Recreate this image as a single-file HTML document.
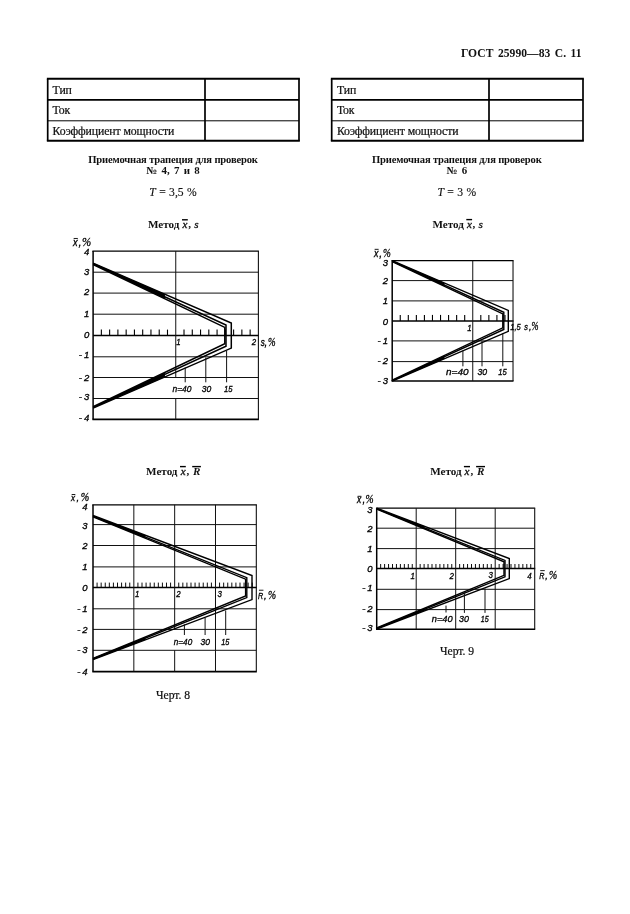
<!DOCTYPE html>
<html lang="ru"><head><meta charset="utf-8"><title>ГОСТ 25990—83 С. 11</title>
<style>
html,body{margin:0;padding:0;background:#fff;}
body{width:630px;height:914px;position:relative;overflow:hidden;filter:blur(0.3px);font-family:"Liberation Serif",serif;color:#111;}
.t{position:absolute;white-space:nowrap;line-height:1;}
.c{text-align:center;}
.b{font-weight:bold;}
.hd{font-size:11.6px;font-weight:bold;left:461px;top:47.8px;letter-spacing:0.03px;word-spacing:1.5px;}
table.tb{position:absolute;border-collapse:collapse;border-spacing:0;table-layout:fixed;width:251.3px;}
table.tb td{padding:0;vertical-align:top;line-height:1;white-space:nowrap;font-size:11.8px;letter-spacing:-0.11px;-webkit-text-stroke:0.22px #111;}
.cap{font-size:11.6px;letter-spacing:0px;-webkit-text-stroke:0.22px #111;}
i{font-weight:normal;}
svg{position:absolute;left:0;top:0;}
svg text{font-family:"Liberation Sans",sans-serif;font-style:italic;font-size:9.5px;fill:#000;stroke:#000;stroke-width:0.33px;}
.ov{text-decoration:overline;}
</style></head><body>
<div class="t hd">ГОСТ 25990—83 С. 11</div>
<table class="tb" style="left:47.7px;top:78.8px;"><colgroup><col style="width:157.3px"><col style="width:94px"></colgroup>
<tr style="height:21px"><td style="padding-top:6.2px;padding-left:4.9px">Тип</td><td></td></tr>
<tr style="height:21px"><td style="padding-top:5.1px;padding-left:4.9px">Ток</td><td></td></tr>
<tr style="height:20px"><td style="padding-top:5.2px;padding-left:4.9px">Коэффициент мощности</td><td></td></tr>
</table>
<table class="tb" style="left:331.7px;top:78.8px;"><colgroup><col style="width:157.3px"><col style="width:94px"></colgroup>
<tr style="height:21px"><td style="padding-top:6.2px;padding-left:5.2px">Тип</td><td></td></tr>
<tr style="height:21px"><td style="padding-top:5.1px;padding-left:5.2px">Ток</td><td></td></tr>
<tr style="height:20px"><td style="padding-top:5.2px;padding-left:5.2px">Коэффициент мощности</td><td></td></tr>
</table>
<div class="t c b" style="left:43px;width:260px;top:154.7px;font-size:10.6px;letter-spacing:-0.17px;">Приемочная трапеция для проверок</div>
<div class="t c b" style="left:43px;width:260px;top:165.3px;font-size:10.9px;word-spacing:1.6px;">№ 4, 7 и 8</div>
<div class="t c" style="left:43px;width:260px;top:186.7px;font-size:11.6px;word-spacing:0.5px;-webkit-text-stroke:0.15px #111;"><i>T</i> = 3,5 %</div>
<div class="t c b" style="left:326.8px;width:260px;top:154.7px;font-size:10.6px;letter-spacing:-0.17px;">Приемочная трапеция для проверок</div>
<div class="t c b" style="left:326.8px;width:260px;top:165.3px;font-size:10.9px;word-spacing:1.6px;">№ 6</div>
<div class="t c" style="left:326.8px;width:260px;top:186.7px;font-size:11.6px;word-spacing:0.5px;-webkit-text-stroke:0.15px #111;"><i>T</i> = 3 %</div>
<div class="t" style="left:148px;top:218.8px;font-size:11.1px;font-weight:bold;">Метод</div>
<div class="t" style="left:182.6px;top:218.8px;font-size:11.1px;font-style:italic;-webkit-text-stroke:0.3px #111;">x</div>
<div class="t" style="left:188.2px;top:218.8px;font-size:11.1px;font-weight:bold;">,</div>
<div class="t" style="left:194.2px;top:218.8px;font-size:11.1px;font-style:italic;-webkit-text-stroke:0.3px #111;">s</div>
<div class="t" style="left:432.4px;top:219.1px;font-size:11.1px;font-weight:bold;">Метод</div>
<div class="t" style="left:467px;top:219.1px;font-size:11.1px;font-style:italic;-webkit-text-stroke:0.3px #111;">x</div>
<div class="t" style="left:472.6px;top:219.1px;font-size:11.1px;font-weight:bold;">,</div>
<div class="t" style="left:478.6px;top:219.1px;font-size:11.1px;font-style:italic;-webkit-text-stroke:0.3px #111;">s</div>
<div class="t" style="left:146.1px;top:465.9px;font-size:11.1px;font-weight:bold;">Метод</div>
<div class="t" style="left:180.7px;top:465.9px;font-size:11.1px;font-style:italic;-webkit-text-stroke:0.3px #111;">x</div>
<div class="t" style="left:186.5px;top:465.9px;font-size:11.1px;font-weight:bold;">,</div>
<div class="t" style="left:193px;top:465.9px;font-size:11.1px;font-weight:bold;font-style:italic;">R</div>
<div class="t" style="left:430.3px;top:465.9px;font-size:11.1px;font-weight:bold;">Метод</div>
<div class="t" style="left:464.6px;top:465.9px;font-size:11.1px;font-style:italic;-webkit-text-stroke:0.3px #111;">x</div>
<div class="t" style="left:470.4px;top:465.9px;font-size:11.1px;font-weight:bold;">,</div>
<div class="t" style="left:477px;top:465.9px;font-size:11.1px;font-weight:bold;font-style:italic;">R</div>
<div class="t cap" style="left:156px;top:689.8px;">Черт. 8</div>
<div class="t cap" style="left:440px;top:645.8px;">Черт. 9</div>
<svg width="630" height="914" viewBox="0 0 630 914">
<line x1="46.85" y1="78.8" x2="299.85" y2="78.8" stroke="#000" stroke-width="1.9"/>
<line x1="46.85" y1="140.8" x2="299.85" y2="140.8" stroke="#000" stroke-width="2"/>
<line x1="47.7" y1="99.8" x2="299" y2="99.8" stroke="#000" stroke-width="1.8"/>
<line x1="47.7" y1="120.8" x2="299" y2="120.8" stroke="#000" stroke-width="1"/>
<line x1="47.7" y1="78.8" x2="47.7" y2="140.8" stroke="#000" stroke-width="1.7"/>
<line x1="299" y1="78.8" x2="299" y2="140.8" stroke="#000" stroke-width="1.7"/>
<line x1="205" y1="78.8" x2="205" y2="140.8" stroke="#000" stroke-width="1.7"/>
<line x1="330.85" y1="78.8" x2="583.85" y2="78.8" stroke="#000" stroke-width="1.9"/>
<line x1="330.85" y1="140.8" x2="583.85" y2="140.8" stroke="#000" stroke-width="2"/>
<line x1="331.7" y1="99.8" x2="583" y2="99.8" stroke="#000" stroke-width="1.8"/>
<line x1="331.7" y1="120.8" x2="583" y2="120.8" stroke="#000" stroke-width="1"/>
<line x1="331.7" y1="78.8" x2="331.7" y2="140.8" stroke="#000" stroke-width="1.7"/>
<line x1="583" y1="78.8" x2="583" y2="140.8" stroke="#000" stroke-width="1.7"/>
<line x1="489" y1="78.8" x2="489" y2="140.8" stroke="#000" stroke-width="1.7"/>
<line x1="182" y1="219.8" x2="187.8" y2="219.8" stroke="#000" stroke-width="1.4"/>
<line x1="466.3" y1="219.6" x2="472.1" y2="219.6" stroke="#000" stroke-width="1.4"/>
<line x1="180" y1="466.6" x2="185.8" y2="466.6" stroke="#000" stroke-width="1.4"/>
<line x1="192.2" y1="466.6" x2="200.9" y2="466.6" stroke="#000" stroke-width="1.4"/>
<line x1="463.9" y1="466.6" x2="470" y2="466.6" stroke="#000" stroke-width="1.4"/>
<line x1="476.1" y1="466.6" x2="485" y2="466.6" stroke="#000" stroke-width="1.4"/>
<line x1="92.4" y1="251.1" x2="258.9" y2="251.1" stroke="#000" stroke-width="1.3"/>
<line x1="93.1" y1="272.2" x2="258.4" y2="272.2" stroke="#111" stroke-width="1"/>
<line x1="93.1" y1="293.1" x2="258.4" y2="293.1" stroke="#111" stroke-width="1"/>
<line x1="93.1" y1="314.2" x2="258.4" y2="314.2" stroke="#111" stroke-width="1"/>
<line x1="93.1" y1="335.6" x2="258.9" y2="335.6" stroke="#000" stroke-width="1.5"/>
<line x1="93.1" y1="356.8" x2="258.4" y2="356.8" stroke="#111" stroke-width="1"/>
<line x1="93.1" y1="377.5" x2="258.4" y2="377.5" stroke="#111" stroke-width="1"/>
<line x1="93.1" y1="398.5" x2="258.4" y2="398.5" stroke="#111" stroke-width="1"/>
<line x1="92.4" y1="419.4" x2="258.9" y2="419.4" stroke="#000" stroke-width="1.6"/>
<line x1="93.1" y1="251.1" x2="93.1" y2="419.4" stroke="#000" stroke-width="1.5"/>
<line x1="258.4" y1="251.1" x2="258.4" y2="419.4" stroke="#111" stroke-width="1.1"/>
<line x1="175.75" y1="251.1" x2="175.75" y2="377.5" stroke="#111" stroke-width="1"/>
<line x1="175.75" y1="398.5" x2="175.75" y2="419.4" stroke="#111" stroke-width="1"/>
<line x1="101.36" y1="329.6" x2="101.36" y2="335.6" stroke="#000" stroke-width="1.1"/>
<line x1="109.63" y1="329.6" x2="109.63" y2="335.6" stroke="#000" stroke-width="1.1"/>
<line x1="117.89" y1="329.6" x2="117.89" y2="335.6" stroke="#000" stroke-width="1.1"/>
<line x1="126.16" y1="329.6" x2="126.16" y2="335.6" stroke="#000" stroke-width="1.1"/>
<line x1="134.43" y1="329.6" x2="134.43" y2="335.6" stroke="#000" stroke-width="1.1"/>
<line x1="142.69" y1="329.6" x2="142.69" y2="335.6" stroke="#000" stroke-width="1.1"/>
<line x1="150.95" y1="329.6" x2="150.95" y2="335.6" stroke="#000" stroke-width="1.1"/>
<line x1="159.22" y1="329.6" x2="159.22" y2="335.6" stroke="#000" stroke-width="1.1"/>
<line x1="167.49" y1="329.6" x2="167.49" y2="335.6" stroke="#000" stroke-width="1.1"/>
<line x1="184.01" y1="329.6" x2="184.01" y2="335.6" stroke="#000" stroke-width="1.1"/>
<line x1="192.28" y1="329.6" x2="192.28" y2="335.6" stroke="#000" stroke-width="1.1"/>
<line x1="200.55" y1="329.6" x2="200.55" y2="335.6" stroke="#000" stroke-width="1.1"/>
<line x1="208.81" y1="329.6" x2="208.81" y2="335.6" stroke="#000" stroke-width="1.1"/>
<line x1="217.07" y1="329.6" x2="217.07" y2="335.6" stroke="#000" stroke-width="1.1"/>
<line x1="225.34" y1="329.6" x2="225.34" y2="335.6" stroke="#000" stroke-width="1.1"/>
<line x1="233.61" y1="329.6" x2="233.61" y2="335.6" stroke="#000" stroke-width="1.1"/>
<line x1="241.87" y1="329.6" x2="241.87" y2="335.6" stroke="#000" stroke-width="1.1"/>
<line x1="250.14" y1="329.6" x2="250.14" y2="335.6" stroke="#000" stroke-width="1.1"/>
<polyline points="93.1,263.1 231.3,323.1 231.3,348.1 93.1,408.1" fill="none" stroke="#000" stroke-width="1.5" stroke-linejoin="miter"/>
<polyline points="93.1,263.8 226,325 226,346.2 93.1,407.4" fill="none" stroke="#000" stroke-width="1.5" stroke-linejoin="miter"/>
<polyline points="93.1,264.5 224.8,327.4 224.8,343.8 93.1,406.7" fill="none" stroke="#000" stroke-width="1.5" stroke-linejoin="miter"/>
<polygon points="93.1,263.1 164.96,294.3 164.96,298.82 93.1,264.5" fill="#000"/>
<polygon points="93.1,408.1 164.96,376.9 164.96,372.38 93.1,406.7" fill="#000"/>
<line x1="185.2" y1="367.5" x2="185.2" y2="382.3" stroke="#111" stroke-width="1"/>
<text x="172.5" y="392.4" text-anchor="start" textLength="19" lengthAdjust="spacingAndGlyphs">n=40</text>
<line x1="205.8" y1="357.5" x2="205.8" y2="382.3" stroke="#111" stroke-width="1"/>
<text x="201.8" y="392.4" text-anchor="start" textLength="9.5" lengthAdjust="spacingAndGlyphs">30</text>
<line x1="226.6" y1="351" x2="226.6" y2="382.3" stroke="#111" stroke-width="1"/>
<text x="223.9" y="392.4" text-anchor="start" textLength="8.5" lengthAdjust="spacingAndGlyphs">15</text>
<text x="89.2" y="254.8" text-anchor="end">4</text>
<text x="89.2" y="274.7" text-anchor="end">3</text>
<text x="89.2" y="295" text-anchor="end">2</text>
<text x="89.2" y="316.5" text-anchor="end">1</text>
<text x="89.2" y="337.8" text-anchor="end">0</text>
<text x="89.2" y="358.2" text-anchor="end">-<tspan dx="2">1</tspan></text>
<text x="89.2" y="381.4" text-anchor="end">-<tspan dx="2">2</tspan></text>
<text x="89.2" y="399.9" text-anchor="end">-<tspan dx="2">3</tspan></text>
<text x="89.2" y="420.8" text-anchor="end">-<tspan dx="2">4</tspan></text>
<text x="176.3" y="345.3" text-anchor="start" textLength="4.4" lengthAdjust="spacingAndGlyphs">1</text>
<text x="251.8" y="345.2" text-anchor="start" textLength="4.4" lengthAdjust="spacingAndGlyphs">2</text>
<text x="260.7" y="345.6" text-anchor="start" style="font-size:10px;" textLength="4" lengthAdjust="spacingAndGlyphs">s</text>
<text x="264.6" y="345.6" text-anchor="start" style="font-size:10px;">,</text>
<text x="267.9" y="345.6" text-anchor="start" style="font-size:11.8px;stroke-width:0.3px;font-family:&quot;Liberation Serif&quot;,serif;" textLength="7.6" lengthAdjust="spacingAndGlyphs">%</text>
<text x="73" y="246" text-anchor="start" style="font-size:11px;" textLength="4.62" lengthAdjust="spacingAndGlyphs">x</text>
<text x="78.4" y="246" text-anchor="start" style="font-size:11px;">,</text>
<text x="82" y="246" text-anchor="start" style="font-size:12.2px;stroke-width:0.3px;font-family:&quot;Liberation Serif&quot;,serif;" textLength="9.2" lengthAdjust="spacingAndGlyphs">%</text>
<line x1="73.66" y1="238.48" x2="77.84" y2="238.48" stroke="#000" stroke-width="0.9"/>
<line x1="391.5" y1="260.6" x2="513.52" y2="260.6" stroke="#000" stroke-width="1.3"/>
<line x1="392.2" y1="280.6" x2="513.02" y2="280.6" stroke="#111" stroke-width="1"/>
<line x1="392.2" y1="300.9" x2="513.02" y2="300.9" stroke="#111" stroke-width="1"/>
<line x1="392.2" y1="320.9" x2="513.52" y2="320.9" stroke="#000" stroke-width="1.5"/>
<line x1="392.2" y1="340.9" x2="513.02" y2="340.9" stroke="#111" stroke-width="1"/>
<line x1="392.2" y1="361.6" x2="513.02" y2="361.6" stroke="#111" stroke-width="1"/>
<line x1="391.5" y1="381" x2="513.52" y2="381" stroke="#000" stroke-width="1.6"/>
<line x1="392.2" y1="260.6" x2="392.2" y2="381" stroke="#000" stroke-width="1.5"/>
<line x1="513.02" y1="260.6" x2="513.02" y2="381" stroke="#111" stroke-width="1.1"/>
<line x1="472.75" y1="260.6" x2="472.75" y2="381" stroke="#111" stroke-width="1"/>
<line x1="400.25" y1="314.9" x2="400.25" y2="320.9" stroke="#000" stroke-width="1.1"/>
<line x1="408.31" y1="314.9" x2="408.31" y2="320.9" stroke="#000" stroke-width="1.1"/>
<line x1="416.37" y1="314.9" x2="416.37" y2="320.9" stroke="#000" stroke-width="1.1"/>
<line x1="424.42" y1="314.9" x2="424.42" y2="320.9" stroke="#000" stroke-width="1.1"/>
<line x1="432.47" y1="314.9" x2="432.47" y2="320.9" stroke="#000" stroke-width="1.1"/>
<line x1="440.53" y1="314.9" x2="440.53" y2="320.9" stroke="#000" stroke-width="1.1"/>
<line x1="448.58" y1="314.9" x2="448.58" y2="320.9" stroke="#000" stroke-width="1.1"/>
<line x1="456.64" y1="314.9" x2="456.64" y2="320.9" stroke="#000" stroke-width="1.1"/>
<line x1="464.69" y1="314.9" x2="464.69" y2="320.9" stroke="#000" stroke-width="1.1"/>
<line x1="480.8" y1="314.9" x2="480.8" y2="320.9" stroke="#000" stroke-width="1.1"/>
<line x1="488.86" y1="314.9" x2="488.86" y2="320.9" stroke="#000" stroke-width="1.1"/>
<line x1="496.91" y1="314.9" x2="496.91" y2="320.9" stroke="#000" stroke-width="1.1"/>
<line x1="504.97" y1="314.9" x2="504.97" y2="320.9" stroke="#000" stroke-width="1.1"/>
<polyline points="392.2,260.6 508.3,310.4 508.3,331.4 392.2,381.2" fill="none" stroke="#000" stroke-width="1.4" stroke-linejoin="miter"/>
<polyline points="392.2,261.1 503.8,312.3 503.8,329.5 392.2,380.7" fill="none" stroke="#000" stroke-width="1.4" stroke-linejoin="miter"/>
<polyline points="392.2,261.6 502.8,313.9 502.8,327.9 392.2,380.2" fill="none" stroke="#000" stroke-width="1.4" stroke-linejoin="miter"/>
<polygon points="392.2,260.6 444.44,283.01 444.44,286.31 392.2,261.6" fill="#000"/>
<polygon points="392.2,381.2 444.44,358.79 444.44,355.49 392.2,380.2" fill="#000"/>
<line x1="462.9" y1="350.5" x2="462.9" y2="366.3" stroke="#111" stroke-width="1"/>
<text x="446" y="375.2" text-anchor="start" textLength="22.5" lengthAdjust="spacingAndGlyphs">n=40</text>
<line x1="482" y1="341" x2="482" y2="366.3" stroke="#111" stroke-width="1"/>
<text x="477.4" y="375" text-anchor="start" textLength="9.7" lengthAdjust="spacingAndGlyphs">30</text>
<line x1="502.8" y1="333" x2="502.8" y2="366.3" stroke="#111" stroke-width="1"/>
<text x="498.3" y="375" text-anchor="start" textLength="8.5" lengthAdjust="spacingAndGlyphs">15</text>
<text x="388" y="265.8" text-anchor="end">3</text>
<text x="388" y="283.7" text-anchor="end">2</text>
<text x="388" y="304.2" text-anchor="end">1</text>
<text x="388" y="324.9" text-anchor="end">0</text>
<text x="388" y="344.2" text-anchor="end">-<tspan dx="2">1</tspan></text>
<text x="388" y="364.4" text-anchor="end">-<tspan dx="2">2</tspan></text>
<text x="388" y="384.1" text-anchor="end">-<tspan dx="2">3</tspan></text>
<text x="467.3" y="331.3" text-anchor="start" textLength="4.4" lengthAdjust="spacingAndGlyphs">1</text>
<text x="510.3" y="329.5" text-anchor="start" textLength="10.4" lengthAdjust="spacingAndGlyphs">1,5</text>
<text x="524.3" y="330.2" text-anchor="start" style="font-size:9px;" textLength="3.6" lengthAdjust="spacingAndGlyphs">s</text>
<text x="529" y="330.2" text-anchor="start" style="font-size:9px;">,</text>
<text x="531.4" y="330.2" text-anchor="start" style="font-size:11.8px;stroke-width:0.3px;font-family:&quot;Liberation Serif&quot;,serif;" textLength="7" lengthAdjust="spacingAndGlyphs">%</text>
<text x="374" y="256.6" text-anchor="start" style="font-size:10.5px;" textLength="4.41" lengthAdjust="spacingAndGlyphs">x</text>
<text x="379.2" y="256.6" text-anchor="start" style="font-size:10.5px;">,</text>
<text x="382.9" y="256.6" text-anchor="start" style="font-size:12px;stroke-width:0.3px;font-family:&quot;Liberation Serif&quot;,serif;" textLength="7.8" lengthAdjust="spacingAndGlyphs">%</text>
<line x1="374.63" y1="249.34" x2="378.62" y2="249.34" stroke="#000" stroke-width="0.9"/>
<line x1="92.3" y1="504.8" x2="256.82" y2="504.8" stroke="#000" stroke-width="1.3"/>
<line x1="93" y1="524.6" x2="256.32" y2="524.6" stroke="#111" stroke-width="1"/>
<line x1="93" y1="545.5" x2="256.32" y2="545.5" stroke="#111" stroke-width="1"/>
<line x1="93" y1="566.9" x2="256.32" y2="566.9" stroke="#111" stroke-width="1"/>
<line x1="93" y1="587.6" x2="256.82" y2="587.6" stroke="#000" stroke-width="1.5"/>
<line x1="93" y1="608.8" x2="256.32" y2="608.8" stroke="#111" stroke-width="1"/>
<line x1="93" y1="629.4" x2="256.32" y2="629.4" stroke="#111" stroke-width="1"/>
<line x1="93" y1="650.3" x2="256.32" y2="650.3" stroke="#111" stroke-width="1"/>
<line x1="92.3" y1="671.6" x2="256.82" y2="671.6" stroke="#000" stroke-width="1.6"/>
<line x1="93" y1="504.8" x2="93" y2="671.6" stroke="#000" stroke-width="1.5"/>
<line x1="256.32" y1="504.8" x2="256.32" y2="671.6" stroke="#111" stroke-width="1.1"/>
<line x1="133.83" y1="504.8" x2="133.83" y2="671.6" stroke="#111" stroke-width="1"/>
<line x1="174.66" y1="504.8" x2="174.66" y2="629.4" stroke="#111" stroke-width="1"/>
<line x1="174.66" y1="650.3" x2="174.66" y2="671.6" stroke="#111" stroke-width="1"/>
<line x1="215.49" y1="504.8" x2="215.49" y2="671.6" stroke="#111" stroke-width="1"/>
<line x1="97.08" y1="582.6" x2="97.08" y2="587.6" stroke="#000" stroke-width="0.95"/>
<line x1="101.17" y1="582.6" x2="101.17" y2="587.6" stroke="#000" stroke-width="0.95"/>
<line x1="105.25" y1="582.6" x2="105.25" y2="587.6" stroke="#000" stroke-width="0.95"/>
<line x1="109.33" y1="582.6" x2="109.33" y2="587.6" stroke="#000" stroke-width="0.95"/>
<line x1="113.41" y1="582.6" x2="113.41" y2="587.6" stroke="#000" stroke-width="0.95"/>
<line x1="117.5" y1="582.6" x2="117.5" y2="587.6" stroke="#000" stroke-width="0.95"/>
<line x1="121.58" y1="582.6" x2="121.58" y2="587.6" stroke="#000" stroke-width="0.95"/>
<line x1="125.66" y1="582.6" x2="125.66" y2="587.6" stroke="#000" stroke-width="0.95"/>
<line x1="129.75" y1="582.6" x2="129.75" y2="587.6" stroke="#000" stroke-width="0.95"/>
<line x1="137.91" y1="582.6" x2="137.91" y2="587.6" stroke="#000" stroke-width="0.95"/>
<line x1="142" y1="582.6" x2="142" y2="587.6" stroke="#000" stroke-width="0.95"/>
<line x1="146.08" y1="582.6" x2="146.08" y2="587.6" stroke="#000" stroke-width="0.95"/>
<line x1="150.16" y1="582.6" x2="150.16" y2="587.6" stroke="#000" stroke-width="0.95"/>
<line x1="154.25" y1="582.6" x2="154.25" y2="587.6" stroke="#000" stroke-width="0.95"/>
<line x1="158.33" y1="582.6" x2="158.33" y2="587.6" stroke="#000" stroke-width="0.95"/>
<line x1="162.41" y1="582.6" x2="162.41" y2="587.6" stroke="#000" stroke-width="0.95"/>
<line x1="166.49" y1="582.6" x2="166.49" y2="587.6" stroke="#000" stroke-width="0.95"/>
<line x1="170.58" y1="582.6" x2="170.58" y2="587.6" stroke="#000" stroke-width="0.95"/>
<line x1="178.74" y1="582.6" x2="178.74" y2="587.6" stroke="#000" stroke-width="0.95"/>
<line x1="182.83" y1="582.6" x2="182.83" y2="587.6" stroke="#000" stroke-width="0.95"/>
<line x1="186.91" y1="582.6" x2="186.91" y2="587.6" stroke="#000" stroke-width="0.95"/>
<line x1="190.99" y1="582.6" x2="190.99" y2="587.6" stroke="#000" stroke-width="0.95"/>
<line x1="195.07" y1="582.6" x2="195.07" y2="587.6" stroke="#000" stroke-width="0.95"/>
<line x1="199.16" y1="582.6" x2="199.16" y2="587.6" stroke="#000" stroke-width="0.95"/>
<line x1="203.24" y1="582.6" x2="203.24" y2="587.6" stroke="#000" stroke-width="0.95"/>
<line x1="207.32" y1="582.6" x2="207.32" y2="587.6" stroke="#000" stroke-width="0.95"/>
<line x1="211.41" y1="582.6" x2="211.41" y2="587.6" stroke="#000" stroke-width="0.95"/>
<line x1="219.57" y1="582.6" x2="219.57" y2="587.6" stroke="#000" stroke-width="0.95"/>
<line x1="223.66" y1="582.6" x2="223.66" y2="587.6" stroke="#000" stroke-width="0.95"/>
<line x1="227.74" y1="582.6" x2="227.74" y2="587.6" stroke="#000" stroke-width="0.95"/>
<line x1="231.82" y1="582.6" x2="231.82" y2="587.6" stroke="#000" stroke-width="0.95"/>
<line x1="235.91" y1="582.6" x2="235.91" y2="587.6" stroke="#000" stroke-width="0.95"/>
<line x1="239.99" y1="582.6" x2="239.99" y2="587.6" stroke="#000" stroke-width="0.95"/>
<line x1="244.07" y1="582.6" x2="244.07" y2="587.6" stroke="#000" stroke-width="0.95"/>
<line x1="248.15" y1="582.6" x2="248.15" y2="587.6" stroke="#000" stroke-width="0.95"/>
<line x1="252.24" y1="582.6" x2="252.24" y2="587.6" stroke="#000" stroke-width="0.95"/>
<polyline points="93,515.5 252,575.6 252,599.6 93,659.7" fill="none" stroke="#000" stroke-width="1.4" stroke-linejoin="miter"/>
<polyline points="93,516.2 246.8,577.6 246.8,597.6 93,659" fill="none" stroke="#000" stroke-width="1.4" stroke-linejoin="miter"/>
<polyline points="93,516.9 245.6,579.2 245.6,596 93,658.3" fill="none" stroke="#000" stroke-width="1.4" stroke-linejoin="miter"/>
<polygon points="93,515.5 145.47,535.33 145.47,538.32 93,516.9" fill="#000"/>
<polygon points="93,659.7 145.47,639.87 145.47,636.88 93,658.3" fill="#000"/>
<line x1="184.4" y1="624.4" x2="184.4" y2="635" stroke="#111" stroke-width="1"/>
<text x="173.8" y="645.2" text-anchor="start" textLength="18.4" lengthAdjust="spacingAndGlyphs">n=40</text>
<line x1="205.1" y1="617.8" x2="205.1" y2="635" stroke="#111" stroke-width="1"/>
<text x="200.5" y="645.2" text-anchor="start" textLength="9.5" lengthAdjust="spacingAndGlyphs">30</text>
<line x1="225.7" y1="610.5" x2="225.7" y2="635" stroke="#111" stroke-width="1"/>
<text x="221.2" y="645.2" text-anchor="start" textLength="8.2" lengthAdjust="spacingAndGlyphs">15</text>
<text x="87.6" y="509.5" text-anchor="end">4</text>
<text x="87.6" y="528.7" text-anchor="end">3</text>
<text x="87.6" y="548.9" text-anchor="end">2</text>
<text x="87.6" y="569.5" text-anchor="end">1</text>
<text x="87.6" y="590.5" text-anchor="end">0</text>
<text x="87.6" y="611.7" text-anchor="end">-<tspan dx="2">1</tspan></text>
<text x="87.6" y="632.8" text-anchor="end">-<tspan dx="2">2</tspan></text>
<text x="87.6" y="653.1" text-anchor="end">-<tspan dx="2">3</tspan></text>
<text x="87.6" y="674.7" text-anchor="end">-<tspan dx="2">4</tspan></text>
<text x="134.9" y="596.8" text-anchor="start" textLength="4.4" lengthAdjust="spacingAndGlyphs">1</text>
<text x="176.3" y="596.9" text-anchor="start" textLength="4.4" lengthAdjust="spacingAndGlyphs">2</text>
<text x="217.4" y="597.3" text-anchor="start" textLength="4.4" lengthAdjust="spacingAndGlyphs">3</text>
<text x="258" y="598.9" text-anchor="start" style="font-size:9.4px;" textLength="5.17" lengthAdjust="spacingAndGlyphs">R</text>
<text x="264" y="598.9" text-anchor="start" style="font-size:9.4px;">,</text>
<text x="267.9" y="598.9" text-anchor="start" style="font-size:12px;stroke-width:0.3px;font-family:&quot;Liberation Serif&quot;,serif;" textLength="8.1" lengthAdjust="spacingAndGlyphs">%</text>
<line x1="258.94" y1="590.23" x2="263.45" y2="590.23" stroke="#000" stroke-width="0.9"/>
<text x="71.1" y="501.3" text-anchor="start" style="font-size:9.6px;" textLength="4.03" lengthAdjust="spacingAndGlyphs">x</text>
<text x="76.4" y="501.3" text-anchor="start" style="font-size:9.6px;">,</text>
<text x="80.8" y="501.3" text-anchor="start" style="font-size:11.8px;stroke-width:0.3px;font-family:&quot;Liberation Serif&quot;,serif;" textLength="8.5" lengthAdjust="spacingAndGlyphs">%</text>
<line x1="71.68" y1="494.51" x2="75.32" y2="494.51" stroke="#000" stroke-width="0.9"/>
<line x1="376" y1="508.2" x2="535.2" y2="508.2" stroke="#000" stroke-width="1.3"/>
<line x1="376.7" y1="528.2" x2="534.7" y2="528.2" stroke="#111" stroke-width="1"/>
<line x1="376.7" y1="548.6" x2="534.7" y2="548.6" stroke="#111" stroke-width="1"/>
<line x1="376.7" y1="568.6" x2="535.2" y2="568.6" stroke="#000" stroke-width="1.5"/>
<line x1="376.7" y1="589.3" x2="534.7" y2="589.3" stroke="#111" stroke-width="1"/>
<line x1="376.7" y1="609.6" x2="534.7" y2="609.6" stroke="#111" stroke-width="1"/>
<line x1="376" y1="629.3" x2="535.2" y2="629.3" stroke="#000" stroke-width="1.6"/>
<line x1="376.7" y1="508.2" x2="376.7" y2="629.3" stroke="#000" stroke-width="1.5"/>
<line x1="534.7" y1="508.2" x2="534.7" y2="629.3" stroke="#111" stroke-width="1.1"/>
<line x1="416.2" y1="508.2" x2="416.2" y2="629.3" stroke="#111" stroke-width="1"/>
<line x1="455.7" y1="508.2" x2="455.7" y2="629.3" stroke="#111" stroke-width="1"/>
<line x1="495.2" y1="508.2" x2="495.2" y2="629.3" stroke="#111" stroke-width="1"/>
<line x1="380.65" y1="564" x2="380.65" y2="568.6" stroke="#000" stroke-width="0.95"/>
<line x1="384.6" y1="564" x2="384.6" y2="568.6" stroke="#000" stroke-width="0.95"/>
<line x1="388.55" y1="564" x2="388.55" y2="568.6" stroke="#000" stroke-width="0.95"/>
<line x1="392.5" y1="564" x2="392.5" y2="568.6" stroke="#000" stroke-width="0.95"/>
<line x1="396.45" y1="564" x2="396.45" y2="568.6" stroke="#000" stroke-width="0.95"/>
<line x1="400.4" y1="564" x2="400.4" y2="568.6" stroke="#000" stroke-width="0.95"/>
<line x1="404.35" y1="564" x2="404.35" y2="568.6" stroke="#000" stroke-width="0.95"/>
<line x1="408.3" y1="564" x2="408.3" y2="568.6" stroke="#000" stroke-width="0.95"/>
<line x1="412.25" y1="564" x2="412.25" y2="568.6" stroke="#000" stroke-width="0.95"/>
<line x1="420.15" y1="564" x2="420.15" y2="568.6" stroke="#000" stroke-width="0.95"/>
<line x1="424.1" y1="564" x2="424.1" y2="568.6" stroke="#000" stroke-width="0.95"/>
<line x1="428.05" y1="564" x2="428.05" y2="568.6" stroke="#000" stroke-width="0.95"/>
<line x1="432" y1="564" x2="432" y2="568.6" stroke="#000" stroke-width="0.95"/>
<line x1="435.95" y1="564" x2="435.95" y2="568.6" stroke="#000" stroke-width="0.95"/>
<line x1="439.9" y1="564" x2="439.9" y2="568.6" stroke="#000" stroke-width="0.95"/>
<line x1="443.85" y1="564" x2="443.85" y2="568.6" stroke="#000" stroke-width="0.95"/>
<line x1="447.8" y1="564" x2="447.8" y2="568.6" stroke="#000" stroke-width="0.95"/>
<line x1="451.75" y1="564" x2="451.75" y2="568.6" stroke="#000" stroke-width="0.95"/>
<line x1="459.65" y1="564" x2="459.65" y2="568.6" stroke="#000" stroke-width="0.95"/>
<line x1="463.6" y1="564" x2="463.6" y2="568.6" stroke="#000" stroke-width="0.95"/>
<line x1="467.55" y1="564" x2="467.55" y2="568.6" stroke="#000" stroke-width="0.95"/>
<line x1="471.5" y1="564" x2="471.5" y2="568.6" stroke="#000" stroke-width="0.95"/>
<line x1="475.45" y1="564" x2="475.45" y2="568.6" stroke="#000" stroke-width="0.95"/>
<line x1="479.4" y1="564" x2="479.4" y2="568.6" stroke="#000" stroke-width="0.95"/>
<line x1="483.35" y1="564" x2="483.35" y2="568.6" stroke="#000" stroke-width="0.95"/>
<line x1="487.3" y1="564" x2="487.3" y2="568.6" stroke="#000" stroke-width="0.95"/>
<line x1="491.25" y1="564" x2="491.25" y2="568.6" stroke="#000" stroke-width="0.95"/>
<line x1="499.15" y1="564" x2="499.15" y2="568.6" stroke="#000" stroke-width="0.95"/>
<line x1="503.1" y1="564" x2="503.1" y2="568.6" stroke="#000" stroke-width="0.95"/>
<line x1="507.05" y1="564" x2="507.05" y2="568.6" stroke="#000" stroke-width="0.95"/>
<line x1="511" y1="564" x2="511" y2="568.6" stroke="#000" stroke-width="0.95"/>
<line x1="514.95" y1="564" x2="514.95" y2="568.6" stroke="#000" stroke-width="0.95"/>
<line x1="518.9" y1="564" x2="518.9" y2="568.6" stroke="#000" stroke-width="0.95"/>
<line x1="522.85" y1="564" x2="522.85" y2="568.6" stroke="#000" stroke-width="0.95"/>
<line x1="526.8" y1="564" x2="526.8" y2="568.6" stroke="#000" stroke-width="0.95"/>
<line x1="530.75" y1="564" x2="530.75" y2="568.6" stroke="#000" stroke-width="0.95"/>
<polyline points="376.7,508.2 509.3,558.6 509.3,578.6 376.7,629" fill="none" stroke="#000" stroke-width="1.4" stroke-linejoin="miter"/>
<polyline points="376.7,508.7 505,560.4 505,576.8 376.7,628.5" fill="none" stroke="#000" stroke-width="1.4" stroke-linejoin="miter"/>
<polyline points="376.7,509.2 504,561.8 504,575.4 376.7,628" fill="none" stroke="#000" stroke-width="1.4" stroke-linejoin="miter"/>
<polygon points="376.7,508.2 424.44,526.34 424.44,528.92 376.7,509.2" fill="#000"/>
<polygon points="376.7,629 424.44,610.86 424.44,608.28 376.7,628" fill="#000"/>
<line x1="446" y1="605.6" x2="446" y2="612.5" stroke="#111" stroke-width="1"/>
<text x="431.8" y="622.3" text-anchor="start" textLength="20.9" lengthAdjust="spacingAndGlyphs">n=40</text>
<line x1="464.4" y1="592.2" x2="464.4" y2="612.9" stroke="#111" stroke-width="1"/>
<text x="459" y="622.3" text-anchor="start" textLength="9.9" lengthAdjust="spacingAndGlyphs">30</text>
<line x1="485" y1="588.6" x2="485" y2="612.9" stroke="#111" stroke-width="1"/>
<text x="480.8" y="622.3" text-anchor="start" textLength="7.9" lengthAdjust="spacingAndGlyphs">15</text>
<text x="372.6" y="513" text-anchor="end">3</text>
<text x="372.6" y="532.4" text-anchor="end">2</text>
<text x="372.6" y="551.8" text-anchor="end">1</text>
<text x="372.6" y="571.9" text-anchor="end">0</text>
<text x="372.6" y="591.4" text-anchor="end">-<tspan dx="2">1</tspan></text>
<text x="372.6" y="612.1" text-anchor="end">-<tspan dx="2">2</tspan></text>
<text x="372.6" y="631.1" text-anchor="end">-<tspan dx="2">3</tspan></text>
<text x="410.6" y="578.5" text-anchor="start" textLength="4.4" lengthAdjust="spacingAndGlyphs">1</text>
<text x="449.5" y="578.5" text-anchor="start" textLength="4.4" lengthAdjust="spacingAndGlyphs">2</text>
<text x="488.6" y="578.2" text-anchor="start" textLength="4.4" lengthAdjust="spacingAndGlyphs">3</text>
<text x="527.3" y="578.7" text-anchor="start" textLength="4.4" lengthAdjust="spacingAndGlyphs">4</text>
<text x="539.3" y="579.3" text-anchor="start" style="font-size:9.4px;" textLength="5.17" lengthAdjust="spacingAndGlyphs">R</text>
<text x="545.2" y="579.3" text-anchor="start" style="font-size:9.4px;">,</text>
<text x="548.9" y="579.3" text-anchor="start" style="font-size:12px;stroke-width:0.3px;font-family:&quot;Liberation Serif&quot;,serif;" textLength="8.2" lengthAdjust="spacingAndGlyphs">%</text>
<line x1="540.24" y1="570.63" x2="544.75" y2="570.63" stroke="#000" stroke-width="0.9"/>
<text x="357" y="503.3" text-anchor="start" style="font-size:10px;" textLength="4.2" lengthAdjust="spacingAndGlyphs">x</text>
<text x="362.4" y="503.3" text-anchor="start" style="font-size:10px;">,</text>
<text x="365.6" y="503.3" text-anchor="start" style="font-size:11.6px;stroke-width:0.3px;font-family:&quot;Liberation Serif&quot;,serif;" textLength="8.1" lengthAdjust="spacingAndGlyphs">%</text>
<line x1="357.6" y1="496.3" x2="361.4" y2="496.3" stroke="#000" stroke-width="0.9"/>
</svg>
</body></html>
